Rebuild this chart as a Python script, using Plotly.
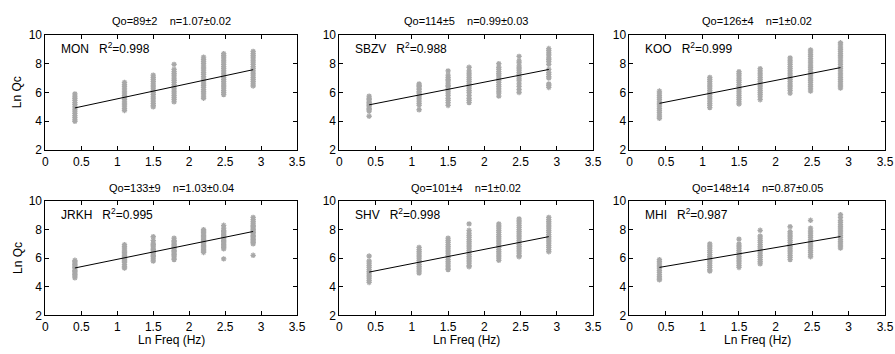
import math
import plotly.graph_objects as go

# ---------------- data ----------------
ln_freq = [0.41, 1.10, 1.50, 1.79, 2.20, 2.48, 2.89]

stations = ["MON", "SBZV", "KOO", "JRKH", "SHV", "MHI"]
q0_vals = [89, 114, 126, 133, 101, 148]
q0_err = [2, 5, 4, 9, 4, 14]
n_vals = [1.07, 0.99, 1, 1.03, 1, 0.87]
n_err = [0.02, 0.03, 0.02, 0.04, 0.02, 0.05]
r2_vals = ["0.998", "0.988", "0.999", "0.995", "0.998", "0.987"]

mon_lnqc = [
    [5.9, 5.75, 5.6, 5.45, 5.3, 5.15, 5.0, 4.85, 4.7, 4.55, 4.4, 4.25, 4.1, 4.0],
    [6.7, 6.55, 6.4, 6.25, 6.1, 5.95, 5.8, 5.65, 5.5, 5.35, 5.2, 5.05, 4.9, 4.75],
    [7.2, 7.05, 6.9, 6.75, 6.6, 6.45, 6.3, 6.15, 6.0, 5.85, 5.7, 5.55, 5.4, 5.25, 5.1, 5.0],
    [7.95, 7.6, 7.45, 7.3, 7.15, 7.0, 6.85, 6.7, 6.55, 6.4, 6.25, 6.1, 5.95, 5.8, 5.65, 5.5, 5.35],
    [8.45, 8.3, 8.15, 8.0, 7.85, 7.7, 7.55, 7.4, 7.25, 7.1, 6.95, 6.8, 6.65, 6.5, 6.35, 6.2, 6.05, 5.9, 5.75, 5.6],
    [8.7, 8.55, 8.4, 8.25, 8.1, 7.95, 7.8, 7.65, 7.5, 7.35, 7.2, 7.05, 6.9, 6.75, 6.6, 6.45, 6.3, 6.15, 6.0, 5.85],
    [8.85, 8.7, 8.55, 8.4, 8.25, 8.1, 7.95, 7.8, 7.65, 7.5, 7.35, 7.2, 7.05, 6.9, 6.75, 6.6, 6.45],
]
sbzv_lnqc = [
    [5.75, 5.6, 5.5, 5.4, 5.3, 5.2, 5.1, 5.0, 4.9, 4.8, 4.7, 4.35],
    [6.6, 6.5, 6.4, 6.3, 6.2, 6.05, 5.95, 5.8, 5.7, 5.55, 5.4, 5.25, 5.1, 4.8],
    [7.5, 7.2, 7.05, 6.9, 6.8, 6.65, 6.5, 6.4, 6.25, 6.1, 5.95, 5.8, 5.6, 5.45, 5.3, 5.1],
    [7.75, 7.5, 7.35, 7.2, 7.05, 6.9, 6.75, 6.6, 6.45, 6.3, 6.15, 6.0, 5.8, 5.6, 5.45, 5.3],
    [8.0, 7.75, 7.6, 7.45, 7.3, 7.15, 7.0, 6.85, 6.7, 6.55, 6.4, 6.25, 6.1, 5.95, 5.75],
    [8.5, 8.2, 8.05, 7.85, 7.7, 7.55, 7.4, 7.25, 7.1, 6.95, 6.8, 6.6, 6.4, 6.2, 6.0],
    [9.05, 8.9, 8.75, 8.6, 8.4, 8.3, 8.15, 7.95, 7.6, 7.4, 7.25, 7.1, 7.0, 6.6, 6.5, 6.35],
]
koo_lnqc = [
    [6.1, 5.95, 5.8, 5.65, 5.5, 5.35, 5.2, 5.05, 4.9, 4.75, 4.6, 4.45, 4.3, 4.2],
    [7.05, 6.9, 6.75, 6.6, 6.45, 6.3, 6.15, 6.0, 5.85, 5.7, 5.55, 5.4, 5.25, 5.1, 4.95],
    [7.45, 7.3, 7.15, 7.0, 6.85, 6.7, 6.55, 6.4, 6.25, 6.1, 5.95, 5.8, 5.65, 5.5, 5.35, 5.2],
    [7.65, 7.5, 7.35, 7.2, 7.05, 6.9, 6.75, 6.6, 6.45, 6.3, 6.15, 6.0, 5.85, 5.7, 5.5],
    [8.4, 8.25, 8.1, 7.95, 7.8, 7.65, 7.5, 7.35, 7.2, 7.05, 6.9, 6.75, 6.6, 6.45, 6.3, 6.15, 5.95],
    [8.95, 8.8, 8.65, 8.5, 8.35, 8.2, 8.05, 7.9, 7.75, 7.6, 7.45, 7.3, 7.15, 7.0, 6.85, 6.7, 6.55, 6.4, 6.25, 6.1],
    [9.45, 9.3, 9.15, 9.0, 8.85, 8.7, 8.55, 8.4, 8.25, 8.1, 7.95, 7.8, 7.65, 7.5, 7.35, 7.2, 7.05, 6.9, 6.75, 6.6, 6.45, 6.3],
]
jrkh_lnqc = [
    [5.85, 5.75, 5.65, 5.55, 5.45, 5.35, 5.25, 5.15, 5.05, 4.95, 4.85, 4.75, 4.62],
    [6.95, 6.8, 6.65, 6.5, 6.4, 6.3, 6.2, 6.1, 6.0, 5.9, 5.8, 5.7, 5.55, 5.4, 5.3],
    [7.5, 7.25, 7.05, 6.95, 6.85, 6.7, 6.6, 6.5, 6.4, 6.3, 6.2, 6.1, 5.95, 5.8],
    [7.4, 7.25, 7.15, 7.05, 6.95, 6.85, 6.75, 6.65, 6.55, 6.45, 6.35, 6.25, 6.15, 6.0, 5.9],
    [8.0, 7.9, 7.8, 7.7, 7.6, 7.5, 7.4, 7.3, 7.2, 7.1, 7.0, 6.9, 6.8, 6.7, 6.6, 6.5, 6.4],
    [8.3, 8.1, 7.95, 7.85, 7.75, 7.65, 7.55, 7.45, 7.35, 7.25, 7.15, 7.05, 6.95, 6.85, 6.75, 6.65, 5.95],
    [8.85, 8.7, 8.55, 8.4, 8.3, 8.2, 8.1, 8.0, 7.9, 7.8, 7.7, 7.6, 7.5, 7.4, 7.3, 7.2, 7.1, 7.0, 6.2],
]
shv_lnqc = [
    [6.15, 5.8, 5.65, 5.5, 5.35, 5.2, 5.05, 4.9, 4.75, 4.6, 4.45, 4.3],
    [6.75, 6.6, 6.45, 6.3, 6.15, 6.0, 5.85, 5.7, 5.55, 5.4, 5.25, 5.1, 4.95],
    [7.4, 7.25, 7.1, 6.95, 6.8, 6.65, 6.5, 6.35, 6.2, 6.05, 5.9, 5.75, 5.6, 5.45, 5.3, 5.2],
    [8.4, 7.95, 7.75, 7.6, 7.45, 7.3, 7.15, 7.0, 6.85, 6.7, 6.55, 6.4, 6.25, 6.1, 5.95, 5.8, 5.65, 5.5, 5.4],
    [8.4, 8.25, 8.1, 7.95, 7.8, 7.65, 7.5, 7.35, 7.2, 7.05, 6.9, 6.75, 6.6, 6.45, 6.3, 6.15, 6.0, 5.85],
    [8.75, 8.6, 8.45, 8.3, 8.15, 8.0, 7.85, 7.7, 7.55, 7.4, 7.25, 7.1, 6.95, 6.8, 6.65, 6.5, 6.35, 6.2, 6.1],
    [8.85, 8.7, 8.55, 8.4, 8.25, 8.1, 7.95, 7.8, 7.65, 7.5, 7.35, 7.2, 7.05, 6.9, 6.75, 6.6, 6.45],
]
mhi_lnqc = [
    [5.9, 5.75, 5.6, 5.45, 5.3, 5.15, 5.0, 4.85, 4.7, 4.55, 4.48],
    [7.0, 6.85, 6.7, 6.55, 6.4, 6.25, 6.1, 5.95, 5.8, 5.65, 5.5, 5.35, 5.2, 5.1],
    [7.33, 7.0, 6.85, 6.7, 6.55, 6.4, 6.25, 6.1, 5.95, 5.8, 5.65, 5.5, 5.35],
    [7.95, 7.55, 7.4, 7.25, 7.1, 6.95, 6.8, 6.65, 6.5, 6.35, 6.2, 6.05, 5.9, 5.75, 5.6],
    [8.2, 7.85, 7.7, 7.55, 7.4, 7.25, 7.1, 6.95, 6.8, 6.65, 6.5, 6.35, 6.2, 6.05, 5.9],
    [8.65, 8.1, 7.9, 7.75, 7.6, 7.45, 7.3, 7.15, 7.0, 6.85, 6.7, 6.55, 6.4, 6.25, 6.1],
    [9.05, 8.85, 8.65, 8.5, 8.35, 8.2, 8.05, 7.9, 7.75, 7.6, 7.45, 7.3, 7.15, 7.0, 6.85, 6.7],
]
all_lnqc = [mon_lnqc, sbzv_lnqc, koo_lnqc, jrkh_lnqc, shv_lnqc, mhi_lnqc]

x_ticks = [0, 0.5, 1, 1.5, 2, 2.5, 3, 3.5]
x_ticklabels = ["0", "0.5", "1", "1.5", "2", "2.5", "3", "3.5"]
y_ticks = [2, 4, 6, 8, 10]

# ---------------- layout geometry ----------------
W, H = 895, 354
col_px = [(43, 298), (341, 598), (635, 894)]
row_px = [(29, 149), (202, 321)]
FONT = "Liberation Sans, Arial, sans-serif"
NB = "\u00a0"

fig = go.Figure()
layout = dict(
    width=W, height=H, margin=dict(l=0, r=0, t=0, b=0),
    paper_bgcolor="white", plot_bgcolor="white", showlegend=False,
    font=dict(family=FONT, size=12, color="black"),
)
annotations = []

for i, st in enumerate(stations):
    r, c = divmod(i, 3)
    k = i + 1
    xa = "x" if k == 1 else f"x{k}"
    ya = "y" if k == 1 else f"y{k}"
    x0, x1 = col_px[c]
    t0, t1 = row_px[r]
    layout["xaxis" if k == 1 else f"xaxis{k}"] = dict(
        domain=[x0 / W, x1 / W], anchor=ya, range=[0, 3.5],
        tickvals=x_ticks, ticktext=x_ticklabels, ticks="inside", ticklen=4,
        tickcolor="black", showline=True, linecolor="black", linewidth=1,
        mirror="ticks", showgrid=False, zeroline=False,
        tickfont=dict(size=12, family=FONT), fixedrange=True,
    )
    layout["yaxis" if k == 1 else f"yaxis{k}"] = dict(
        domain=[1 - t1 / H, 1 - t0 / H], anchor=xa, range=[2, 10],
        tickvals=y_ticks, ticks="inside", ticklen=4,
        tickcolor="black", showline=True, linecolor="black", linewidth=1,
        mirror="ticks", showgrid=False, zeroline=False,
        tickfont=dict(size=12, family=FONT), fixedrange=True,
    )
    xs, ys = [], []
    for fx, col in zip(ln_freq, all_lnqc[i]):
        xs += [fx] * len(col)
        ys += col
    fig.add_trace(go.Scatter(
        x=xs, y=ys, mode="markers", xaxis=xa, yaxis=ya,
        marker=dict(symbol="asterisk-open", size=4.5, color="#a8a8a8",
                    line=dict(color="#a8a8a8", width=1.3)),
        hoverinfo="skip",
    ))
    fx0, fx1 = ln_freq[0], ln_freq[-1]
    lq = math.log(q0_vals[i])
    fig.add_trace(go.Scatter(
        x=[fx0, fx1], y=[lq + n_vals[i] * fx0, lq + n_vals[i] * fx1],
        mode="lines", xaxis=xa, yaxis=ya,
        line=dict(color="black", width=1), hoverinfo="skip",
    ))
    # title
    annotations.append(dict(
        text=f"Qo={q0_vals[i]}±{q0_err[i]}{NB*4}n={n_vals[i]:g}±{n_err[i]:g}",
        xref="paper", yref="paper", x=(x0 + x1) / 2 / W, y=1 - (t0 - 14) / H,
        xanchor="center", yanchor="middle", showarrow=False,
        font=dict(size=11, family=FONT),
    ))
    # station label
    annotations.append(dict(
        text=f"{st}{NB*3}R<sup>2</sup>={r2_vals[i]}",
        xref=xa, yref=ya, x=0.19, y=9.1, xanchor="left", yanchor="middle",
        showarrow=False, font=dict(size=12, family=FONT),
    ))
    if c == 0:
        annotations.append(dict(
            text="Ln Qc", xref="paper", yref="paper", x=15 / W,
            y=1 - (t0 + t1) / 2 / H, textangle=-90, xanchor="center",
            yanchor="middle", showarrow=False, font=dict(size=12, family=FONT),
        ))
    if r == 1:
        annotations.append(dict(
            text="Ln Freq (Hz)", xref="paper", yref="paper", x=(x0 + x1) / 2 / W,
            y=1 - 347 / H, xanchor="center", yanchor="middle", showarrow=False,
            font=dict(size=12, family=FONT),
        ))

layout["annotations"] = annotations
fig.update_layout(**layout)
fig.write_html("out.html", config={"displayModeBar": False},
               post_script="document.body.style.margin='0';document.body.style.overflow='hidden';")
